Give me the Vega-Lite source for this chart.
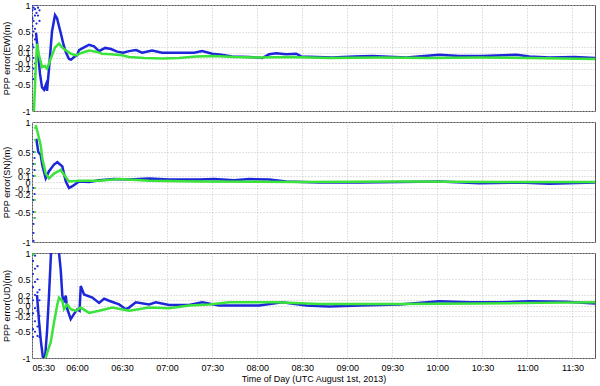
{
 "$schema": "https://vega.github.io/schema/vega-lite/v6.json",
 "padding": {"left": 1, "top": 0, "right": 4, "bottom": 0},
 "background": "white",
 "spacing": 11,
 "bounds": "flush",
 "config": {
  "font": "Liberation Sans",
  "view": {"stroke": "#555", "strokeWidth": 1},
  "axis": {"labelFont": "Liberation Sans", "labelFontSize": 9, "labelColor": "#000", "titleFont": "Liberation Sans", "titleFontSize": 9, "titleFontWeight": "normal", "titleColor": "#000", "grid": true, "gridColor": "#c4c4c4", "gridDash": [1, 2], "domain": false, "ticks": false, "labelPadding": 2}
 },
 "datasets": {
  "ew": [
   {"m": 330.33, "s": "bd", "v": 1.0}, {"m": 330.33, "s": "bd", "v": 0.9}, {"m": 330.33, "s": "bd", "v": 0.75}, {"m": 330.33, "s": "bd", "v": 0.6}, {"m": 330.33, "s": "bd", "v": 0.42}, {"m": 330.33, "s": "bd", "v": 0.25},
   {"m": 331, "s": "bd", "v": 0.95}, {"m": 331, "s": "bd", "v": 0.7}, {"m": 331, "s": "bd", "v": 0.5}, {"m": 331, "s": "bd", "v": 0.2}, {"m": 331, "s": "bd", "v": 0.0}, {"m": 331, "s": "bd", "v": -0.2}, {"m": 331, "s": "bd", "v": -0.4},
   {"m": 332, "s": "bd", "v": 0.92}, {"m": 332, "s": "bd", "v": 0.8}, {"m": 332, "s": "bd", "v": 0.55}, {"m": 332, "s": "bd", "v": 0.35}, {"m": 332, "s": "bd", "v": -0.1}, {"m": 332, "s": "bd", "v": -0.3}, {"m": 332, "s": "bd", "v": -0.55},
   {"m": 333, "s": "bd", "v": 1.0}, {"m": 333, "s": "bd", "v": 0.85}, {"m": 333, "s": "bd", "v": 0.65}, {"m": 334, "s": "bd", "v": 0.95}, {"m": 334, "s": "bd", "v": 0.8}, {"m": 335, "s": "bd", "v": 0.9}, {"m": 335, "s": "bd", "v": 0.7},
   {"m": 332.67, "s": "b", "v": 0.48}, {"m": 334, "s": "b", "v": 0.1}, {"m": 335.33, "s": "b", "v": -0.3}, {"m": 336.67, "s": "b", "v": -0.55}, {"m": 338, "s": "b", "v": -0.6}, {"m": 339.33, "s": "b", "v": -0.5}, {"m": 340, "s": "b", "v": -0.62}, {"m": 341.33, "s": "b", "v": -0.2}, {"m": 343.33, "s": "b", "v": 0.5}, {"m": 345.33, "s": "b", "v": 0.81}, {"m": 346.67, "s": "b", "v": 0.75}, {"m": 348, "s": "b", "v": 0.6}, {"m": 349.33, "s": "b", "v": 0.45}, {"m": 351, "s": "b", "v": 0.25}, {"m": 352.67, "s": "b", "v": 0.1}, {"m": 354.67, "s": "b", "v": -0.02}, {"m": 356, "s": "b", "v": -0.03}, {"m": 358, "s": "b", "v": 0.02}, {"m": 360, "s": "b", "v": 0.05}, {"m": 361.33, "s": "b", "v": 0.15}, {"m": 364.67, "s": "b", "v": 0.2}, {"m": 368, "s": "b", "v": 0.25}, {"m": 371.33, "s": "b", "v": 0.22}, {"m": 374.67, "s": "b", "v": 0.13}, {"m": 378.67, "s": "b", "v": 0.19}, {"m": 382.67, "s": "b", "v": 0.17}, {"m": 386.67, "s": "b", "v": 0.12}, {"m": 390.67, "s": "b", "v": 0.1}, {"m": 394.67, "s": "b", "v": 0.13}, {"m": 399.33, "s": "b", "v": 0.15}, {"m": 403.33, "s": "b", "v": 0.1}, {"m": 410, "s": "b", "v": 0.14}, {"m": 416.67, "s": "b", "v": 0.1}, {"m": 428, "s": "b", "v": 0.1}, {"m": 438, "s": "b", "v": 0.1}, {"m": 443.33, "s": "b", "v": 0.13}, {"m": 450, "s": "b", "v": 0.08}, {"m": 456, "s": "b", "v": 0.06}, {"m": 463.33, "s": "b", "v": 0.03}, {"m": 474.67, "s": "b", "v": 0.02}, {"m": 483.33, "s": "b", "v": 0.0}, {"m": 488, "s": "b", "v": 0.07}, {"m": 492.67, "s": "b", "v": 0.09}, {"m": 499.33, "s": "b", "v": 0.07}, {"m": 506, "s": "b", "v": 0.08}, {"m": 509.33, "s": "b", "v": 0.03}, {"m": 530, "s": "b", "v": 0.01}, {"m": 544.67, "s": "b", "v": 0.03}, {"m": 556.67, "s": "b", "v": 0.04}, {"m": 579.33, "s": "b", "v": 0.01}, {"m": 601.33, "s": "b", "v": 0.06}, {"m": 614.67, "s": "b", "v": 0.04}, {"m": 630, "s": "b", "v": 0.04}, {"m": 652.67, "s": "b", "v": 0.06}, {"m": 661.33, "s": "b", "v": 0.03}, {"m": 674.67, "s": "b", "v": 0.01}, {"m": 691.33, "s": "b", "v": 0.02}, {"m": 705, "s": "b", "v": 0.0},
   {"m": 331.33, "s": "g", "v": -1.0}, {"m": 332.33, "s": "g", "v": -0.3}, {"m": 333.33, "s": "g", "v": 0.27}, {"m": 334.67, "s": "g", "v": 0.05}, {"m": 336.67, "s": "g", "v": -0.17}, {"m": 338.67, "s": "g", "v": -0.15}, {"m": 340, "s": "g", "v": -0.2}, {"m": 342.67, "s": "g", "v": 0.0}, {"m": 345.33, "s": "g", "v": 0.2}, {"m": 348, "s": "g", "v": 0.27}, {"m": 350, "s": "g", "v": 0.2}, {"m": 352.67, "s": "g", "v": 0.14}, {"m": 356, "s": "g", "v": 0.08}, {"m": 359.33, "s": "g", "v": 0.05}, {"m": 363.33, "s": "g", "v": 0.1}, {"m": 368, "s": "g", "v": 0.14}, {"m": 372.67, "s": "g", "v": 0.12}, {"m": 376.67, "s": "g", "v": 0.08}, {"m": 382.67, "s": "g", "v": 0.07}, {"m": 390, "s": "g", "v": 0.05}, {"m": 394.67, "s": "g", "v": 0.02}, {"m": 404.67, "s": "g", "v": 0.0}, {"m": 416.67, "s": "g", "v": -0.01}, {"m": 428, "s": "g", "v": 0.0}, {"m": 439.33, "s": "g", "v": 0.03}, {"m": 451.33, "s": "g", "v": 0.04}, {"m": 464.67, "s": "g", "v": 0.02}, {"m": 481.33, "s": "g", "v": 0.01}, {"m": 501.33, "s": "g", "v": 0.02}, {"m": 528, "s": "g", "v": 0.0}, {"m": 561.33, "s": "g", "v": 0.01}, {"m": 594.67, "s": "g", "v": 0.0}, {"m": 628, "s": "g", "v": 0.01}, {"m": 661.33, "s": "g", "v": 0.0}, {"m": 705, "s": "g", "v": -0.02}
  ],
  "sn": [
   {"m": 331, "s": "bd", "v": 0.5}, {"m": 331, "s": "bd", "v": 0.3}, {"m": 331, "s": "bd", "v": 0.1}, {"m": 331, "s": "bd", "v": -0.1}, {"m": 331, "s": "bd", "v": -0.3}, {"m": 331, "s": "bd", "v": -0.5}, {"m": 331, "s": "bd", "v": -0.7}, {"m": 331, "s": "bd", "v": -0.85}, {"m": 331, "s": "bd", "v": -0.98},
   {"m": 331.67, "s": "bd", "v": 0.4}, {"m": 331.67, "s": "bd", "v": 0.2}, {"m": 331.67, "s": "bd", "v": -0.2}, {"m": 331.67, "s": "bd", "v": -0.6},
   {"m": 332, "s": "gd", "v": 0.9}, {"m": 332, "s": "gd", "v": 0.7}, {"m": 332, "s": "gd", "v": 0.5}, {"m": 332, "s": "gd", "v": 0.3}, {"m": 332, "s": "gd", "v": 0.1}, {"m": 332, "s": "gd", "v": -0.1}, {"m": 332, "s": "gd", "v": -0.3}, {"m": 332, "s": "gd", "v": -0.5}, {"m": 332, "s": "gd", "v": -0.6},
   {"m": 332.87, "s": "b", "v": 0.72}, {"m": 334.2, "s": "b", "v": 0.5}, {"m": 335.8, "s": "b", "v": 0.45}, {"m": 336.87, "s": "b", "v": 0.28}, {"m": 339.13, "s": "b", "v": 0.06}, {"m": 341.33, "s": "b", "v": 0.18}, {"m": 344.67, "s": "b", "v": 0.29}, {"m": 346.87, "s": "b", "v": 0.33}, {"m": 350.2, "s": "b", "v": 0.26}, {"m": 352.47, "s": "b", "v": 0.01}, {"m": 354.67, "s": "b", "v": -0.1}, {"m": 356.87, "s": "b", "v": -0.07}, {"m": 361.33, "s": "b", "v": 0.01}, {"m": 368, "s": "b", "v": 0.0}, {"m": 374.67, "s": "b", "v": 0.03}, {"m": 384.67, "s": "b", "v": 0.05}, {"m": 394.67, "s": "b", "v": 0.04}, {"m": 408, "s": "b", "v": 0.06}, {"m": 421.33, "s": "b", "v": 0.04}, {"m": 441.33, "s": "b", "v": 0.04}, {"m": 451.33, "s": "b", "v": 0.05}, {"m": 464.67, "s": "b", "v": 0.03}, {"m": 474.67, "s": "b", "v": 0.05}, {"m": 488, "s": "b", "v": 0.04}, {"m": 499.33, "s": "b", "v": 0.01}, {"m": 521.33, "s": "b", "v": -0.01}, {"m": 548, "s": "b", "v": -0.01}, {"m": 574.67, "s": "b", "v": 0.0}, {"m": 601.33, "s": "b", "v": 0.01}, {"m": 628, "s": "b", "v": -0.02}, {"m": 654.67, "s": "b", "v": -0.01}, {"m": 674.67, "s": "b", "v": -0.03}, {"m": 705, "s": "b", "v": -0.01},
   {"m": 332.47, "s": "g", "v": 0.95}, {"m": 334.2, "s": "g", "v": 0.78}, {"m": 335.8, "s": "g", "v": 0.61}, {"m": 336.87, "s": "g", "v": 0.39}, {"m": 339.13, "s": "g", "v": 0.14}, {"m": 341.33, "s": "g", "v": 0.06}, {"m": 344.67, "s": "g", "v": 0.14}, {"m": 349.13, "s": "g", "v": 0.2}, {"m": 351.33, "s": "g", "v": 0.12}, {"m": 354.67, "s": "g", "v": 0.01}, {"m": 361.33, "s": "g", "v": 0.02}, {"m": 374.67, "s": "g", "v": 0.02}, {"m": 388, "s": "g", "v": 0.05}, {"m": 408, "s": "g", "v": 0.02}, {"m": 441.33, "s": "g", "v": 0.01}, {"m": 508, "s": "g", "v": 0.0}, {"m": 574.67, "s": "g", "v": 0.01}, {"m": 641.33, "s": "g", "v": 0.0}, {"m": 705, "s": "g", "v": 0.0}
  ],
  "ud": [
   {"m": 330.67, "s": "bd", "v": 1.0}, {"m": 330.67, "s": "bd", "v": 0.85}, {"m": 330.67, "s": "bd", "v": 0.6}, {"m": 330.67, "s": "bd", "v": 0.35}, {"m": 330.67, "s": "bd", "v": 0.1}, {"m": 330.67, "s": "bd", "v": -0.15}, {"m": 330.67, "s": "bd", "v": -0.45}, {"m": 330.67, "s": "bd", "v": -0.6},
   {"m": 332, "s": "bd", "v": 0.95}, {"m": 332, "s": "bd", "v": 0.7}, {"m": 332, "s": "bd", "v": 0.45}, {"m": 332, "s": "bd", "v": 0.2}, {"m": 332, "s": "bd", "v": -0.05}, {"m": 332, "s": "bd", "v": -0.3}, {"m": 332, "s": "bd", "v": -0.5},
   {"m": 333.67, "s": "bd", "v": 0.75}, {"m": 333.67, "s": "bd", "v": 0.5}, {"m": 333.67, "s": "bd", "v": 0.25}, {"m": 333.67, "s": "bd", "v": -0.1}, {"m": 333.67, "s": "bd", "v": -0.4}, {"m": 333.67, "s": "bd", "v": -0.58},
   {"m": 335, "s": "bd", "v": 0.3}, {"m": 335, "s": "bd", "v": 0.1}, {"m": 335, "s": "bd", "v": -0.2}, {"m": 335, "s": "bd", "v": -0.4}, {"m": 335, "s": "bd", "v": -0.6},
   {"m": 331, "s": "gd", "v": 1.0}, {"m": 331, "s": "gd", "v": 0.97},
   {"m": 333.33, "s": "b", "v": 0.2}, {"m": 334.67, "s": "b", "v": -0.3}, {"m": 336, "s": "b", "v": -0.7}, {"m": 337.33, "s": "b", "v": -1.0}, {"m": 338.67, "s": "b", "v": -1.0}, {"m": 340, "s": "b", "v": -0.5}, {"m": 341.33, "s": "b", "v": 0.2}, {"m": 342.67, "s": "b", "v": 1.0}, {"m": 343.33, "s": "b", "v": 1.2}, {"m": 347.33, "s": "b", "v": 1.2}, {"m": 348, "s": "b", "v": 1.0}, {"m": 349.13, "s": "b", "v": 0.68}, {"m": 350.2, "s": "b", "v": 0.19}, {"m": 351.33, "s": "b", "v": 0.06}, {"m": 352.47, "s": "b", "v": 0.19}, {"m": 353.53, "s": "b", "v": -0.07}, {"m": 355.8, "s": "b", "v": -0.26}, {"m": 358, "s": "b", "v": -0.16}, {"m": 360.2, "s": "b", "v": -0.07}, {"m": 361.67, "s": "b", "v": -0.1}, {"m": 362.47, "s": "b", "v": 0.37}, {"m": 364.67, "s": "b", "v": 0.21}, {"m": 370.2, "s": "b", "v": 0.15}, {"m": 374.67, "s": "b", "v": 0.05}, {"m": 378, "s": "b", "v": 0.13}, {"m": 381.33, "s": "b", "v": 0.09}, {"m": 388, "s": "b", "v": 0.02}, {"m": 392.47, "s": "b", "v": -0.07}, {"m": 394.67, "s": "b", "v": -0.04}, {"m": 399.13, "s": "b", "v": 0.06}, {"m": 408, "s": "b", "v": 0.02}, {"m": 412.47, "s": "b", "v": 0.06}, {"m": 421.33, "s": "b", "v": 0.01}, {"m": 434.67, "s": "b", "v": 0.01}, {"m": 443.33, "s": "b", "v": 0.06}, {"m": 454.67, "s": "b", "v": 0.0}, {"m": 481.33, "s": "b", "v": 0.0}, {"m": 496.67, "s": "b", "v": 0.06}, {"m": 512.67, "s": "b", "v": 0.0}, {"m": 528, "s": "b", "v": -0.02}, {"m": 548, "s": "b", "v": 0.0}, {"m": 574.67, "s": "b", "v": 0.02}, {"m": 601.33, "s": "b", "v": 0.08}, {"m": 621.33, "s": "b", "v": 0.06}, {"m": 641.33, "s": "b", "v": 0.06}, {"m": 661.33, "s": "b", "v": 0.08}, {"m": 686, "s": "b", "v": 0.07}, {"m": 705, "s": "b", "v": 0.04},
   {"m": 337.33, "s": "g", "v": -1.2}, {"m": 339.13, "s": "g", "v": -1.0}, {"m": 340.67, "s": "g", "v": -0.85}, {"m": 342.47, "s": "g", "v": -0.7}, {"m": 344.67, "s": "g", "v": -0.32}, {"m": 346.87, "s": "g", "v": 0.02}, {"m": 348, "s": "g", "v": 0.15}, {"m": 350.2, "s": "g", "v": 0.09}, {"m": 351.33, "s": "g", "v": -0.07}, {"m": 353.53, "s": "g", "v": 0.02}, {"m": 355.8, "s": "g", "v": -0.07}, {"m": 359.13, "s": "g", "v": -0.1}, {"m": 362.47, "s": "g", "v": -0.04}, {"m": 368, "s": "g", "v": -0.14}, {"m": 374.67, "s": "g", "v": -0.1}, {"m": 383.53, "s": "g", "v": -0.04}, {"m": 394.67, "s": "g", "v": -0.1}, {"m": 408, "s": "g", "v": -0.04}, {"m": 421.33, "s": "g", "v": -0.05}, {"m": 434.67, "s": "g", "v": 0.0}, {"m": 448, "s": "g", "v": 0.02}, {"m": 461.33, "s": "g", "v": 0.06}, {"m": 492.67, "s": "g", "v": 0.06}, {"m": 521.33, "s": "g", "v": 0.03}, {"m": 574.67, "s": "g", "v": 0.03}, {"m": 628, "s": "g", "v": 0.04}, {"m": 668, "s": "g", "v": 0.05}, {"m": 705, "s": "g", "v": 0.06}
  ]
 },
 "vconcat": [
  {
   "width": 563, "height": 106,
   "data": {"name": "ew"},
   "encoding": {
    "x": {"field": "m", "type": "quantitative", "scale": {"domain": [330, 705], "nice": false, "zero": false}, "axis": {"labels": false, "title": null, "values": [330, 360, 390, 420, 450, 480, 510, 540, 570, 600, 630, 660, 690]}},
    "y": {"field": "v", "type": "quantitative", "scale": {"domain": [-1, 1], "nice": false, "zero": false}, "axis": {"values": [-1, -0.5, -0.2, -0.1, 0, 0.1, 0.2, 0.5, 1], "labelExpr": "'' + datum.value", "labelOverlap": false, "title": "PPP error(EW)(m)", "titlePadding": 3}}
   },
   "layer": [
    {"transform": [{"filter": "datum.s == 'b'"}], "mark": {"type": "line", "color": "#1c28d8", "strokeWidth": 2.5, "clip": true}},
    {"transform": [{"filter": "datum.s == 'bd'"}], "mark": {"type": "point", "filled": true, "opacity": 1, "color": "#1c28d8", "size": 5, "clip": true}},
    {"transform": [{"filter": "datum.s == 'g'"}], "mark": {"type": "line", "color": "#3be33b", "strokeWidth": 2.5, "clip": true}}
   ]
  },
  {
   "width": 563, "height": 120,
   "data": {"name": "sn"},
   "encoding": {
    "x": {"field": "m", "type": "quantitative", "scale": {"domain": [330, 705], "nice": false, "zero": false}, "axis": {"labels": false, "title": null, "values": [330, 360, 390, 420, 450, 480, 510, 540, 570, 600, 630, 660, 690]}},
    "y": {"field": "v", "type": "quantitative", "scale": {"domain": [-1, 1], "nice": false, "zero": false}, "axis": {"values": [-1, -0.5, -0.2, -0.1, 0, 0.1, 0.2, 0.5, 1], "labelExpr": "'' + datum.value", "labelOverlap": false, "title": "PPP error(SN)(m)", "titlePadding": 3}}
   },
   "layer": [
    {"transform": [{"filter": "datum.s == 'b'"}], "mark": {"type": "line", "color": "#1c28d8", "strokeWidth": 2.5, "clip": true}},
    {"transform": [{"filter": "datum.s == 'bd'"}], "mark": {"type": "point", "filled": true, "opacity": 1, "color": "#1c28d8", "size": 5, "clip": true}},
    {"transform": [{"filter": "datum.s == 'g'"}], "mark": {"type": "line", "color": "#3be33b", "strokeWidth": 2.5, "clip": true}},
    {"transform": [{"filter": "datum.s == 'gd'"}], "mark": {"type": "point", "filled": true, "opacity": 1, "color": "#3be33b", "size": 5, "clip": true}}
   ]
  },
  {
   "width": 563, "height": 105,
   "data": {"name": "ud"},
   "encoding": {
    "x": {"field": "m", "type": "quantitative", "scale": {"domain": [330, 705], "nice": false, "zero": false}, "axis": {"values": [330, 360, 390, 420, 450, 480, 510, 540, 570, 600, 630, 660, 690], "labelExpr": "(floor(datum.value / 60) < 10 ? '0' : '') + floor(datum.value / 60) + ':' + (datum.value % 60 < 10 ? '0' : '') + (datum.value % 60)", "labelOverlap": false, "title": "Time of Day (UTC August 1st, 2013)", "titlePadding": 2, "labelPadding": 5}},
    "y": {"field": "v", "type": "quantitative", "scale": {"domain": [-1, 1], "nice": false, "zero": false}, "axis": {"values": [-1, -0.5, -0.2, -0.1, 0, 0.1, 0.2, 0.5, 1], "labelExpr": "'' + datum.value", "labelOverlap": false, "title": "PPP error(UD)(m)", "titlePadding": 3}}
   },
   "layer": [
    {"transform": [{"filter": "datum.s == 'b'"}], "mark": {"type": "line", "color": "#1c28d8", "strokeWidth": 2.5, "clip": true}},
    {"transform": [{"filter": "datum.s == 'bd'"}], "mark": {"type": "point", "filled": true, "opacity": 1, "color": "#1c28d8", "size": 5, "clip": true}},
    {"transform": [{"filter": "datum.s == 'g'"}], "mark": {"type": "line", "color": "#3be33b", "strokeWidth": 2.5, "clip": true}},
    {"transform": [{"filter": "datum.s == 'gd'"}], "mark": {"type": "point", "filled": true, "opacity": 1, "color": "#3be33b", "size": 5, "clip": true}}
   ]
  }
 ]
}
